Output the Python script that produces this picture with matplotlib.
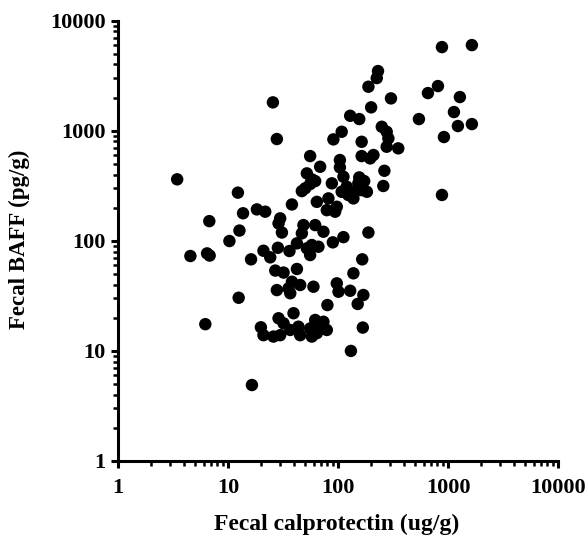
import matplotlib.pyplot as plt
from matplotlib.ticker import FixedLocator, LogLocator, NullFormatter

plt.rcParams['font.family'] = ['Liberation Serif', 'DejaVu Serif']
plt.rcParams['font.weight'] = 'bold'

# Fecal calprotectin (ug/g) vs Fecal BAFF (pg/g)
calprotectin = [
    3.45, 4.55, 6.45, 6.81, 6.76, 6.22, 10.3, 12.7, 12.3, 13.7,
    18.3, 21.8, 16.2, 12.5, 16.5, 25.6, 27.8, 38.1, 29.8, 28.8,
    30.9, 21.0, 24.2, 28.4, 36.2, 42.3, 26.9, 32.0, 42.3, 27.8,
    35.5, 38.1, 36.8, 39.4, 28.8, 32.0, 19.9, 21.0, 25.9, 29.8,
    36.8, 45.3, 59.8, 45.3, 55.8, 62.0, 68.8, 79.1, 57.8, 64.2,
    97.5, 101, 129, 170, 151, 80.1, 168, 131, 138, 73.7,
    43.7, 50.3, 55.8, 62.0, 87.9, 108, 124, 143, 164, 183,
    138, 120, 153, 258, 64.2, 81.8, 79.1, 94.1, 97.5, 48.5,
    46.9, 62.0, 73.7, 112, 89.7, 189, 52.1, 55.8, 66.4, 57.8,
    166, 55.8, 104, 164, 196, 210, 68.8, 104, 264, 52.1,
    57.8, 112, 156, 173, 46.9, 90.8, 108, 164, 250, 277,
    287, 353, 277, 129, 156, 189, 225, 231, 303, 200,
    881, 1648, 810, 657, 1282, 544, 1132, 1230, 1648, 918,
    881,
]
baff = [
    362, 72.8, 76.9, 73.5, 151, 17.5, 99.6, 124, 274, 178,
    193, 184, 67.9, 30.4, 4.9, 1811, 841, 214, 160, 144,
    119, 81.3, 70.8, 86.5, 80.8, 94.9, 53.7, 51.5, 55.5, 35.7,
    37.0, 42.5, 33.4, 22.0, 19.8, 17.8, 16.4, 13.9, 13.5, 13.9,
    15.5, 39.7, 38.3, 13.9, 16.0, 19.1, 17.2, 15.5, 13.5, 14.5,
    41.1, 34.5, 35.2, 32.2, 26.7, 26.1, 16.3, 10.0, 50.7, 18.4,
    16.6, 300, 328, 349, 333, 279, 261, 279, 289, 279,
    243, 310, 333, 315, 226, 243, 190, 184, 204, 139,
    117, 139, 121, 108, 96.9, 119, 85.5, 74.3, 88.4, 91.6,
    67.9, 589, 542, 589, 561, 602, 471, 465, 433, 410,
    362, 382, 377, 349, 283, 835, 979, 794, 1087, 979,
    853, 692, 716, 1368, 1277, 2512, 3010, 3485, 1968, 1632,
    5755, 6000, 2547, 2199, 2024, 1277, 1479, 1104, 1150, 877,
    261,
]
decades = [1, 10, 100, 1000, 10000]

fig = plt.figure(figsize=(5.88, 5.40), dpi=100)
ax = fig.add_axes([0.2007, 0.1463, 0.7483, 0.8154])

ax.scatter(calprotectin, baff, s=80, color='black', edgecolors='none', zorder=3, clip_on=False)

ax.set_xscale('log')
ax.set_yscale('log')
ax.set_xlim(1, 10000)
ax.set_ylim(1, 10000)

ax.xaxis.set_major_locator(FixedLocator(decades))
ax.yaxis.set_major_locator(FixedLocator(decades))
ax.set_xticklabels([str(d) for d in decades])
ax.set_yticklabels([str(d) for d in decades])
for axis in (ax.xaxis, ax.yaxis):
    axis.set_minor_locator(LogLocator(base=10, subs=range(2, 10), numticks=20))
    axis.set_minor_formatter(NullFormatter())

for side in ('top', 'right'):
    ax.spines[side].set_visible(False)
for side in ('left', 'bottom'):
    ax.spines[side].set_linewidth(2.2)

ax.tick_params(which='major', length=5, width=2.2, labelsize=16, pad=4)
ax.tick_params(axis='x', which='major', pad=7)
ax.tick_params(which='minor', length=3.5, width=1.8)
for lab in ax.get_xticklabels() + ax.get_yticklabels():
    lab.set_fontweight('bold')

ax.set_xlabel('Fecal calprotectin (ug/g)', fontsize=17, fontweight='bold', va='center')
ax.set_ylabel('Fecal BAFF (pg/g)', fontsize=16.5, fontweight='bold', va='center')
ax.xaxis.set_label_coords(0.497, -0.145)
ax.yaxis.set_label_coords(-0.223, 0.503)

fig.savefig('out.png', dpi=100)
